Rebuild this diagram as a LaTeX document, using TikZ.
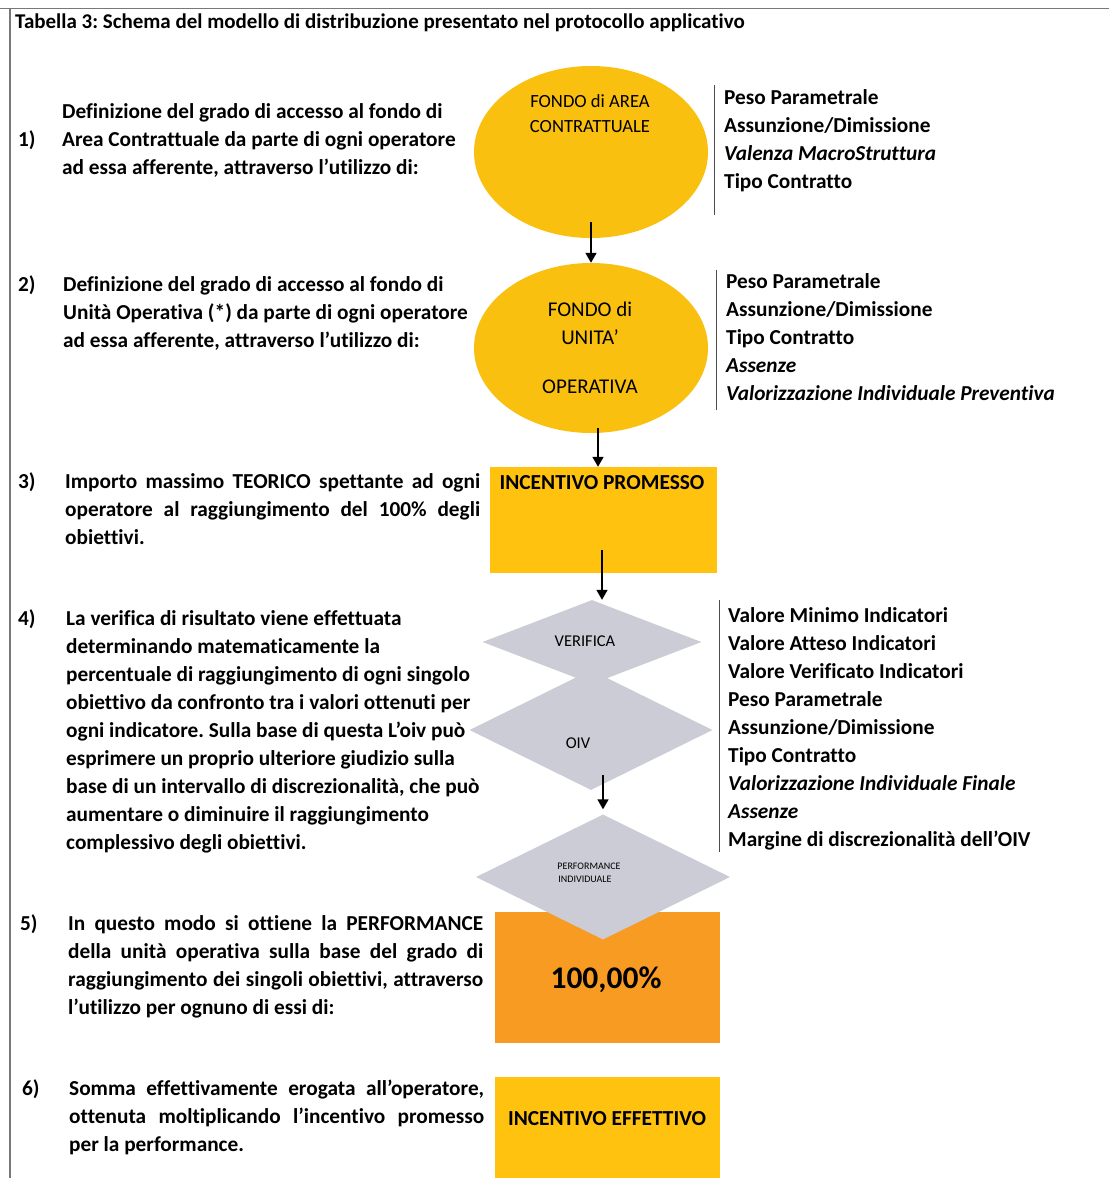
\documentclass[tikz,border=0pt]{standalone}
\usepackage{fontspec}
\setmainfont{Carlito}[Ligatures={NoCommon}]
\usetikzlibrary{shapes.geometric,arrows.meta}
\definecolor{gold}{RGB}{250,192,15}
\definecolor{goldrect}{RGB}{255,194,14}
\definecolor{orng}{RGB}{247,155,35}
\definecolor{dgray}{RGB}{204,204,214}
\definecolor{frame}{RGB}{120,120,120}
\frenchspacing
\begin{document}
\begin{tikzpicture}[x=1pt,y=-1pt,
  txt/.style={anchor=base west,inner sep=0,font=\fontsize{21.3}{25}\selectfont\bfseries},
  itxt/.style={txt,font=\fontsize{21.3}{25}\selectfont\bfseries\itshape},
  ctxt/.style={anchor=base,inner sep=0},
  oval/.style={ellipse,fill=gold,draw=none,inner sep=0},
  box/.style={rectangle,draw=none,inner sep=0},
  dia/.style={diamond,fill=dgray,draw=none,inner sep=0},
  sep/.style={draw=black!70,line width=0.9pt},
  arr/.style={draw=black,line width=1.6pt,-{Triangle[width=11pt,length=10pt]}}]
\useasboundingbox (0,0) rectangle (1109,1178);
\fill[white] (0,0) rectangle (1109,1178);
% frame
\draw[frame,line width=1pt] (0,8) -- (1109,8);
\draw[frame,line width=1.2pt] (10,8) -- (10,1178);
\node[txt,font=\fontsize{21}{24}\selectfont\bfseries] (title) at (15,28) {Tabella 3: Schema del modello di distribuzione presentato nel protocollo applicativo};

% shapes
\node[oval,minimum width=234pt,minimum height=172pt] (e1) at (591,152) {};
\node[oval,minimum width=234pt,minimum height=170pt] (e2) at (591,348) {};
\node[box,fill=goldrect,minimum width=227pt,minimum height=106pt] (r3) at (603.5,520) {};
\node[box,fill=orng,minimum width=225pt,minimum height=131pt] (r5) at (607.5,977.5) {};
\node[box,fill=goldrect,minimum width=225pt,minimum height=101pt] (r6) at (607.5,1127.5) {};

% left texts
\node[txt] (n1) at (18,146) {1)};
\foreach \t [count=\i from 0] in {{Definizione del grado di accesso al fondo di},{Area Contrattuale da parte di ogni operatore},{ad essa afferente, attraverso l’utilizzo di:}}
  \node[txt] (p1l\i) at (62,{118+28*\i}) {\t};
\node[txt] (n2) at (18,291) {2)};
\foreach \t [count=\i from 0] in {{Definizione del grado di accesso al fondo di},{Unità Operativa (*) da parte di ogni operatore},{ad essa afferente, attraverso l’utilizzo di:}}
  \node[txt] (p2l\i) at (63,{291+28*\i}) {\t};
\node[txt] (n3) at (18,488) {3)};
\node[txt] (p3l0) at (65,488) {\makebox[415pt][s]{Importo massimo TEORICO spettante ad ogni}};
\node[txt] (p3l1) at (65,516) {\makebox[415pt][s]{operatore al raggiungimento del 100\% degli}};
\node[txt] (p3l2) at (65,544) {obiettivi.};
\node[txt] (n4) at (18,625) {4)};
\foreach \t [count=\i from 0] in {{La verifica di risultato viene effettuata},{determinando matematicamente la},{percentuale di raggiungimento di ogni singolo},{obiettivo da confronto tra i valori ottenuti per},{ogni indicatore. Sulla base di questa L’oiv può},{esprimere un proprio ulteriore giudizio sulla},{base di un intervallo di discrezionalità, che può},{aumentare o diminuire il raggiungimento},{complessivo degli obiettivi.}}
  \node[txt] (p4l\i) at (66,{625+28*\i}) {\t};
\node[txt] (n5) at (20,930) {5)};
\node[txt] (p5l0) at (68,930) {\makebox[415pt][s]{In questo modo si ottiene la PERFORMANCE}};
\node[txt] (p5l1) at (68,958) {\makebox[415pt][s]{della unità operativa sulla base del grado di}};
\node[txt] (p5l2) at (68,986) {\makebox[415pt][s]{raggiungimento dei singoli obiettivi, attraverso}};
\node[txt] (p5l3) at (68,1014) {l’utilizzo per ognuno di essi di:};
\node[txt] (n6) at (22,1095) {6)};
\node[txt] (p6l0) at (69,1095) {\makebox[415pt][s]{Somma effettivamente erogata all’operatore,}};
\node[txt] (p6l1) at (69,1123) {\makebox[415pt][s]{ottenuta moltiplicando l’incentivo promesso}};
\node[txt] (p6l2) at (69,1151) {per la performance.};

% diamonds
\node[dia,minimum width=219pt,minimum height=84pt] (d1) at (592,642) {};
\node[dia,minimum width=243pt,minimum height=120pt] (d2) at (591,730) {};
\node[dia,minimum width=254pt,minimum height=125pt] (d3) at (603,877) {};

% shape texts
\node[ctxt,font=\fontsize{18.6}{22}\selectfont] (e1t1) at (590,107) {FONDO di AREA};
\node[ctxt,font=\fontsize{18.6}{22}\selectfont] (e1t2) at (590,132) {CONTRATTUALE};
\node[ctxt,font=\fontsize{21}{24}\selectfont] (e2t1) at (590,316) {FONDO di};
\node[ctxt,font=\fontsize{21}{24}\selectfont] (e2t2) at (590,344) {UNITA’};
\node[ctxt,font=\fontsize{21}{24}\selectfont] (e2t3) at (590,393) {OPERATIVA};
\node[ctxt,font=\fontsize{21.4}{24}\selectfont\bfseries] (r3t) at (602,489) {INCENTIVO PROMESSO};
\node[ctxt,font=\fontsize{16.5}{19}\selectfont] (d1t) at (585,646) {VERIFICA};
\node[ctxt,font=\fontsize{16.5}{19}\selectfont] (d2t) at (578,748) {OIV};
\node[ctxt,font=\fontsize{10}{12}\selectfont] (d3t1) at (589,869) {PERFORMANCE};
\node[ctxt,font=\fontsize{10}{12}\selectfont] (d3t2) at (585,882) {INDIVIDUALE};
\node[ctxt,font=\fontsize{31.5}{34}\selectfont\bfseries] (r5t) at (606,988) {100,00\%};
\node[ctxt,font=\fontsize{21.4}{24}\selectfont\bfseries] (r6t) at (607,1125) {INCENTIVO EFFETTIVO};

% right lists
\draw[sep] (714,85) -- (714,215);
\foreach \t/\s [count=\i from 0] in {{Peso Parametrale}/txt,{Assunzione/Dimissione}/txt,{Valenza MacroStruttura}/itxt,{Tipo Contratto}/txt}
  \node[\s] (q1l\i) at (724,{104+28*\i}) {\t};
\draw[sep] (716,270) -- (716,410);
\foreach \t/\s [count=\i from 0] in {{Peso Parametrale}/txt,{Assunzione/Dimissione}/txt,{Tipo Contratto}/txt,{Assenze}/itxt,{Valorizzazione Individuale Preventiva}/itxt}
  \node[\s] (q2l\i) at (726,{288+28*\i}) {\t};
\draw[sep] (719,600) -- (719,852);
\foreach \t/\s [count=\i from 0] in {{Valore Minimo Indicatori}/txt,{Valore Atteso Indicatori}/txt,{Valore Verificato Indicatori}/txt,{Peso Parametrale}/txt,{Assunzione/Dimissione}/txt,{Tipo Contratto}/txt,{Valorizzazione Individuale Finale}/itxt,{Assenze}/itxt,{Margine di discrezionalità dell’OIV}/txt}
  \node[\s] (q3l\i) at (728,{622+28*\i}) {\t};

% arrows
\draw[arr] ([yshift=16pt]e1.south) -- (e2.north);
\draw[arr] ([xshift=7pt,yshift=5pt]e2.south) -- ([xshift=-5.5pt]r3.north);
\draw[arr] ([xshift=-1.5pt,yshift=23pt]r3.south) -- ([xshift=10pt]d1.north);
\draw[arr] ([xshift=12pt,yshift=15pt]d2.south) -- ([yshift=5pt]d3.north);
\end{tikzpicture}
\end{document}
